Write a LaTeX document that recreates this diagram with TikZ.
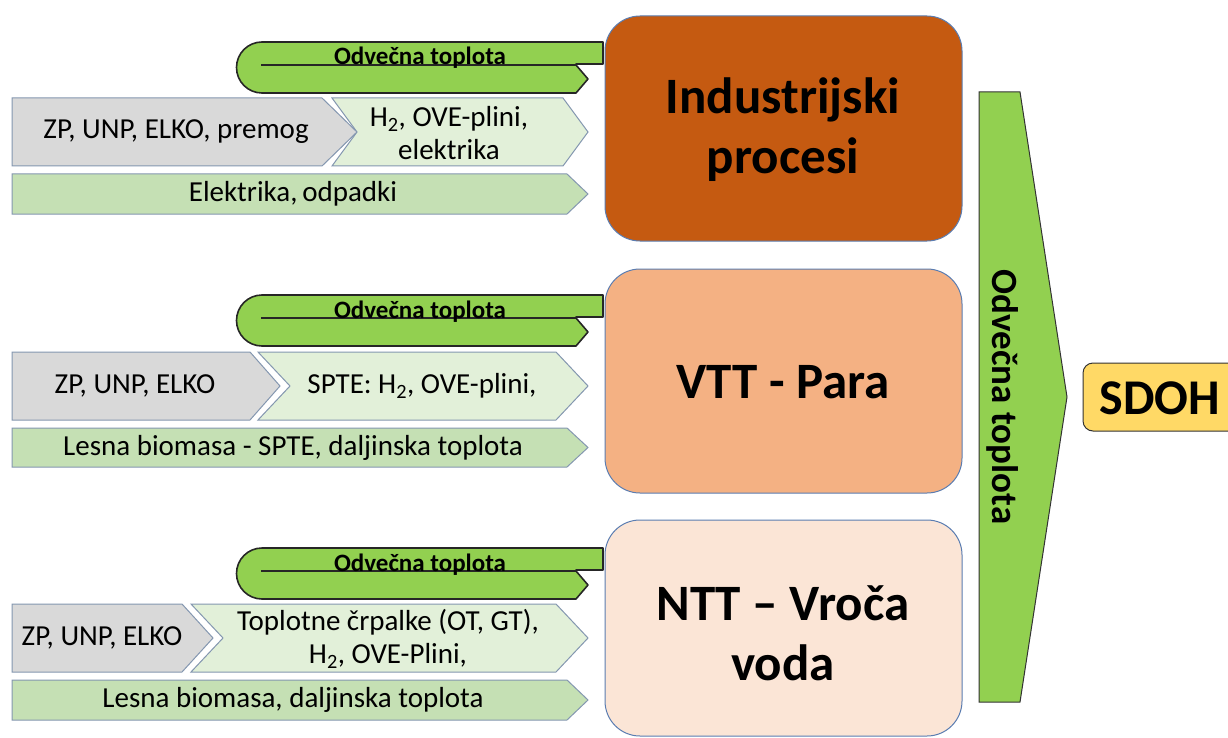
\documentclass[tikz,border=0pt]{standalone}
\usepackage{fontspec}
\setmainfont{Carlito}
\definecolor{grayfill}{HTML}{D9D9D9}
\definecolor{lightfill}{HTML}{E2F0D9}
\definecolor{barfill}{HTML}{C5E0B4}
\definecolor{chevline}{HTML}{8497B0}
\definecolor{greenfill}{HTML}{92D050}
\definecolor{orangefill}{HTML}{C55A11}
\definecolor{peachfill}{HTML}{F4B183}
\definecolor{palefill}{HTML}{FBE5D6}
\definecolor{boxline}{HTML}{5B7DB1}
\definecolor{yellowfill}{HTML}{FFD966}
\newcommand\pentshape[6]{\draw[#1] (#2,#3) -- (#4-#6,#3) -- (#4,{(#3+#5)/2}) -- (#4-#6,#5) -- (#2,#5) -- cycle;}
\newcommand\chevshape[6]{\draw[#1] (#2,#3) -- (#4-#6,#3) -- (#4,{(#3+#5)/2}) -- (#4-#6,#5) -- (#2,#5) -- (#2+#6,{(#3+#5)/2}) -- cycle;}
\newcommand\uturnshape[2]{%
  \begin{scope}[shift={(0,#1)}]
    \draw[uturnstyle] (603,42) -- (262,42) arc[start angle=270, end angle=90, radius=25.5]
      -- (576,93) -- (588,79) -- (576,65) -- (576,64) -- (603,64) -- cycle;
    \draw[uturnline] (261,65) -- (576,65);
    \node[smalllbl, anchor=base] (#2) at (420,65) {Odvečna toplota};
  \end{scope}}
\begin{document}
\begin{tikzpicture}[x=1pt,y=-1pt,
  graybox/.style={fill=grayfill, draw=chevline, line width=1pt, line join=miter},
  lightbox/.style={fill=lightfill, draw=chevline, line width=1pt},
  barbox/.style={fill=barfill, draw=chevline, line width=1pt},
  uturnstyle/.style={fill=greenfill, draw=black!85, line width=1.6pt, line join=round},
  uturnline/.style={draw=black!85, line width=1.6pt},
  bigbox/.style={draw=boxline, line width=1pt, rounded corners=35pt},
  lbl/.style={font=\fontsize{29}{33}\selectfont, align=center, text=black, inner sep=0pt},
  biglbl/.style={font=\bfseries\fontsize{51}{60}\selectfont, align=center, text=black, inner sep=0pt},
  smalllbl/.style={font=\bfseries\fontsize{25}{27}\selectfont, text=black, inner sep=0pt}]
\useasboundingbox (0,0) rectangle (1228,738);
\clip (0,0) rectangle (1228,738);
\fill[white] (0,0) rectangle (1228,738);

% ---- big boxes
\draw[bigbox, fill=orangefill] (605,16) rectangle (962,241);
\node[biglbl] (ind) at (783,130) {Industrijski\\procesi};
\draw[bigbox, fill=peachfill] (605,269) rectangle (962,493);
\node[biglbl] (vtt) at (783,382) {VTT - Para};
\draw[bigbox, fill=palefill] (605,520) rectangle (962,736);
\node[biglbl] (ntt) at (783,633) {NTT – Vroča\\voda};

% ---- row 1
\uturnshape{0}{ut1}
\pentshape{graybox}{12}{98}{357}{166}{35}
\node[lbl] (g1) at (176,132) {ZP, UNP, ELKO, premog};
\chevshape{lightbox}{332}{98}{588}{166}{25}
\node[lbl] (l1) at (449,133) {H\textsubscript{2}, OVE-plini,\\elektrika};
\pentshape{barbox}{12}{174}{588}{214}{21}
\node[lbl] (b1) at (293,194) {Elektrika,\,odpadki};

% ---- row 2
\uturnshape{253}{ut2}
\pentshape{graybox}{12}{352}{280}{420}{30}
\node[lbl] (g2) at (135,386) {ZP, UNP, ELKO};
\chevshape{lightbox}{258}{352}{588}{420}{32}
\node[lbl] (l2) at (422,386) {SPTE: H\textsubscript{2}, OVE-plini,};
\pentshape{barbox}{12}{428}{588}{467}{21}
\node[lbl] (b2) at (293,448) {Lesna biomasa - SPTE, daljinska toplota};

% ---- row 3
\uturnshape{506}{ut3}
\pentshape{graybox}{12}{604}{213}{672}{31}
\node[lbl] (g3) at (102,638) {ZP, UNP, ELKO};
\chevshape{lightbox}{191}{604}{588}{672}{32}
\node[lbl] (l3) at (388,639) {Toplotne črpalke (OT, GT),\\H\textsubscript{2}, OVE-Plini,};
\pentshape{barbox}{12}{680}{588}{720}{21}
\node[lbl] (b3) at (293,700) {Lesna biomasa, daljinska toplota};

% ---- big arrow
\draw[fill=greenfill, draw=black!80, line width=1pt] (979,92) -- (1020,92) -- (1067,397) -- (1020,702) -- (979,702) -- cycle;
\node[font=\bfseries\fontsize{37}{40}\selectfont, rotate=-90, inner sep=0pt] (vt) at (1003,397) {Odvečna toplota};

% ---- SDOH
\draw[fill=yellowfill, draw=black!80, line width=1pt, rounded corners=10pt] (1083,363) rectangle (1245,431);
\node[font=\bfseries\fontsize{50}{54}\selectfont, inner sep=0pt] (sdoh) at (1160,398) {SDOH};
\end{tikzpicture}
\end{document}
